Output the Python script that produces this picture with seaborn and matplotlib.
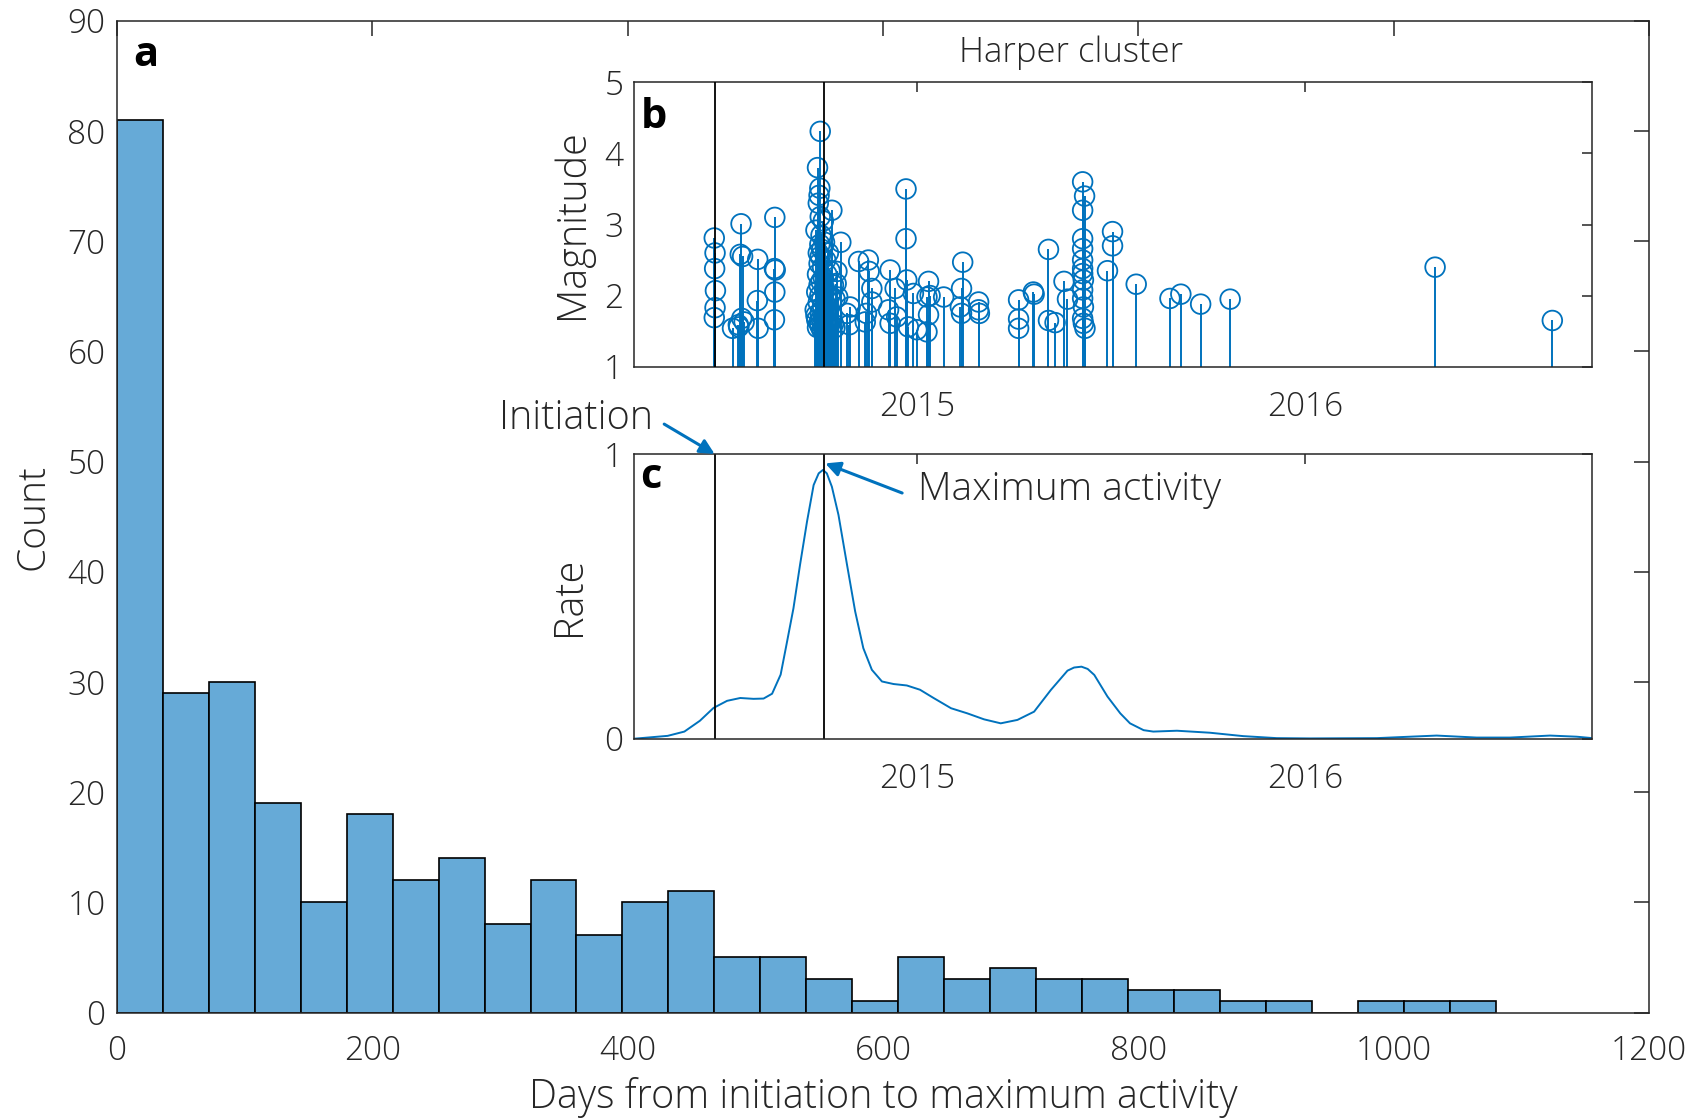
import numpy as np
import pandas as pd
import matplotlib
matplotlib.use('Agg')
import matplotlib.pyplot as plt
import seaborn as sns

# histogram of days from initiation to max activity (36-day bins)
bin_edges = list(range(0, 1081, 36))
counts = [81, 29, 30, 19, 10, 18, 12, 14, 8, 12, 7, 10, 11, 5, 5,
          3, 1, 5, 3, 4, 3, 3, 2, 2, 1, 1, 0, 1, 1, 1]

# Harper cluster events (decimal year, magnitude)
event_year = [
    2014.478, 2014.480, 2014.479, 2014.481, 2014.480, 2014.478,
    2014.525, 2014.540, 2014.547, 2014.545, 2014.551, 2014.549, 2014.541, 2014.555,
    2014.590, 2014.589, 2014.591,
    2014.634, 2014.633, 2014.635, 2014.634, 2014.633,
    2014.738, 2014.740, 2014.740, 2014.742, 2014.742, 2014.744, 2014.744, 2014.744,
    2014.746, 2014.746, 2014.746, 2014.748, 2014.748, 2014.748, 2014.748,
    2014.750, 2014.750, 2014.750, 2014.750, 2014.751, 2014.751, 2014.751, 2014.751,
    2014.753, 2014.753, 2014.753, 2014.755, 2014.755, 2014.755,
    2014.757, 2014.757, 2014.757, 2014.759, 2014.759, 2014.759,
    2014.762, 2014.762, 2014.762, 2014.765, 2014.765, 2014.768, 2014.768,
    2014.772, 2014.772, 2014.772, 2014.776, 2014.776, 2014.781, 2014.781,
    2014.785, 2014.785, 2014.789, 2014.789,
    2014.794, 2014.792, 2014.796, 2014.804, 2014.828, 2014.826, 2014.820,
    2014.850, 2014.875, 2014.877, 2014.884, 2014.884, 2014.870, 2014.867,
    2014.931, 2014.944, 2014.927, 2014.931, 2014.948,
    2014.972, 2014.972, 2014.974, 2014.978, 2014.991, 2015.000,
    2015.030, 2015.026, 2015.030, 2015.026, 2015.034, 2015.069,
    2015.118, 2015.115, 2015.112, 2015.115, 2015.159, 2015.159, 2015.161,
    2015.262, 2015.262, 2015.262, 2015.300, 2015.302, 2015.339, 2015.339,
    2015.356, 2015.379, 2015.388,
    2015.427, 2015.432, 2015.427, 2015.427, 2015.427, 2015.427, 2015.427, 2015.427,
    2015.429, 2015.427, 2015.427, 2015.429, 2015.427, 2015.429, 2015.433,
    2015.491, 2015.504, 2015.504, 2015.565, 2015.652, 2015.680, 2015.731,
    2015.807, 2016.335, 2016.637,
]
event_mag = [
    2.81, 2.60, 2.38, 2.07, 1.83, 1.69,
    1.54, 1.59, 3.01, 2.58, 2.55, 1.68, 1.56, 1.63,
    2.51, 1.93, 1.54,
    3.10, 2.38, 2.36, 2.05, 1.66,
    1.80, 1.72, 2.92, 1.66, 2.05, 3.80, 2.30, 1.55,
    3.30, 2.60, 1.90, 3.41, 2.45, 1.62, 2.15,
    3.51, 2.72, 2.00, 1.58, 4.31, 3.11, 2.55, 1.75,
    2.85, 2.20, 1.68, 2.65, 1.95, 1.52,
    2.40, 1.85, 1.60, 3.05, 2.25, 1.70,
    2.75, 2.10, 1.50, 2.50, 1.88, 2.30, 1.65,
    2.60, 1.78, 1.55, 2.35, 2.00, 3.20, 1.72,
    2.15, 1.60, 1.95, 1.55,
    2.34, 2.17, 1.98, 2.75, 1.84, 1.59, 1.75,
    2.48, 2.50, 2.34, 2.10, 1.91, 1.75, 1.63,
    2.36, 2.10, 1.80, 1.61, 1.70,
    3.50, 2.80, 2.22, 1.56, 2.03, 1.52,
    2.20, 1.98, 1.73, 1.49, 2.00, 1.98,
    2.47, 2.10, 1.84, 1.75, 1.91, 1.80, 1.75,
    1.94, 1.67, 1.54, 2.05, 2.02, 2.65, 1.65,
    1.62, 2.20, 1.95,
    3.60, 3.40, 3.20, 2.80, 2.66, 2.50, 2.38, 2.31,
    2.22, 2.08, 1.96, 1.84, 1.68, 1.61, 1.54,
    2.35, 2.90, 2.70, 2.16, 1.96, 2.02, 1.88,
    1.95, 2.40, 1.65,
]

# smoothed rate
rate_year = [2014.272, 2014.358, 2014.401, 2014.441, 2014.476, 2014.511, 2014.545,
             2014.579, 2014.605, 2014.627, 2014.649, 2014.664, 2014.682, 2014.699,
             2014.717, 2014.734, 2014.747, 2014.758, 2014.768, 2014.781, 2014.798,
             2014.820, 2014.841, 2014.862, 2014.884, 2014.910, 2014.940, 2014.974,
             2015.008, 2015.043, 2015.088, 2015.130, 2015.173, 2015.216, 2015.259,
             2015.302, 2015.345, 2015.388, 2015.405, 2015.424, 2015.440, 2015.457,
             2015.491, 2015.524, 2015.549, 2015.584, 2015.609, 2015.670, 2015.755,
             2015.841, 2015.927, 2016.013, 2016.185, 2016.270, 2016.339, 2016.442,
             2016.528, 2016.631, 2016.700, 2016.740]
rate_val = [0.000, 0.010, 0.025, 0.063, 0.108, 0.133, 0.143,
            0.140, 0.141, 0.158, 0.225, 0.330, 0.458, 0.611,
            0.763, 0.891, 0.932, 0.944, 0.932, 0.885, 0.786,
            0.611, 0.447, 0.318, 0.242, 0.201, 0.192, 0.187,
            0.172, 0.143, 0.107, 0.089, 0.068, 0.054, 0.066,
            0.095, 0.171, 0.239, 0.250, 0.253, 0.245, 0.224,
            0.148, 0.089, 0.054, 0.030, 0.025, 0.028, 0.021,
            0.009, 0.002, 0.001, 0.002, 0.007, 0.011, 0.004,
            0.004, 0.011, 0.007, 0.002]

init_year = 2014.479
max_year = 2014.761

blue = '#0072BD'
bar_col = '#66AAD7'
axcol = '#262626'

sns.set_theme(style='white')
plt.rcParams['font.family'] = ['Open Sans', 'DejaVu Sans']
plt.rcParams['font.weight'] = 'light'
plt.rcParams['axes.labelweight'] = 'light'
plt.rcParams['text.color'] = axcol
plt.rcParams['axes.labelcolor'] = axcol

W, H = 1698, 1118
fig = plt.figure(figsize=(W / 100, H / 100), dpi=100)


def px_axes(l, t, r, b):
    return fig.add_axes([l / W, 1 - b / H, (r - l) / W, (b - t) / H])


def style(a, ticklen):
    for s in a.spines.values():
        s.set_color(axcol)
        s.set_linewidth(1.1)
        s.set_visible(True)
    a.tick_params(direction='in', length=ticklen, width=1.1, colors=axcol,
                  top=True, right=True, labelsize=24, pad=8)


# main histogram
ax = px_axes(116.7, 20.7, 1649.3, 1012.5)
hist_df = pd.DataFrame({
    'days': [(lo + hi) / 2 for lo, hi in zip(bin_edges[:-1], bin_edges[1:])],
    'n': counts,
})
sns.histplot(data=hist_df, x='days', weights='n', bins=bin_edges, ax=ax,
             color=bar_col, edgecolor='black', linewidth=1.2, alpha=1)
ax.set_xlim(0, 1200)
ax.set_ylim(0, 90)
ax.set_xticks(range(0, 1201, 200))
ax.set_yticks(range(0, 91, 10))
style(ax, 11)
ax.tick_params(axis='x', pad=16)
ax.set_xlabel('Days from initiation to maximum activity', fontsize=28.5, labelpad=6)
ax.set_ylabel('Count', fontsize=28, labelpad=11)
fig.text(146 / W, 1 - 56 / H, 'a', fontsize=30, fontweight='bold', color='black',
         ha='center', va='center')

# inset b: magnitudes
axb = px_axes(634.3, 82.3, 1592.3, 366.7)
axb.vlines(event_year, 1, event_mag, color=blue, linewidth=1.4, zorder=2)
sns.scatterplot(x=event_year, y=event_mag, ax=axb, marker='o', s=200,
                facecolors='none', edgecolors=blue, linewidth=1.3, zorder=3)
axb.axvline(init_year, color='black', linewidth=1.3, zorder=4)
axb.axvline(max_year, color='black', linewidth=1.3, zorder=4)
axb.set_xlim(2014.272, 2016.740)
axb.set_ylim(1, 5)
axb.set_xticks([2015, 2016])
axb.set_xticklabels(['2015', '2016'])
axb.set_yticks([1, 2, 3, 4, 5])
style(axb, 7)
axb.tick_params(axis='x', pad=17)
axb.set_ylabel('Magnitude', fontsize=28.5, labelpad=8)
fig.text(1071 / W, 1 - 53 / H, 'Harper cluster', fontsize=25, ha='center', va='center')
fig.text(654 / W, 1 - 117 / H, 'b', fontsize=30, fontweight='bold', color='black',
         ha='center', va='center')

# inset c: rate
axc = px_axes(634.3, 454, 1592.3, 738.7)
sns.lineplot(x=rate_year, y=rate_val, ax=axc, color=blue, linewidth=1.4)
axc.axvline(init_year, color='black', linewidth=1.3)
axc.axvline(max_year, color='black', linewidth=1.3)
axc.set_xlim(2014.272, 2016.740)
axc.set_ylim(0, 1)
axc.set_xticks([2015, 2016])
axc.set_xticklabels(['2015', '2016'])
axc.set_yticks([0, 1])
style(axc, 7)
axc.tick_params(axis='x', pad=17)
axc.set_ylabel('Rate', fontsize=28.5, labelpad=10)
fig.text(651 / W, 1 - 478 / H, 'c', fontsize=30, fontweight='bold', color='black',
         ha='center', va='center')

arrow = dict(arrowstyle='-|>', color=blue, lw=2.2, mutation_scale=22, shrinkA=0, shrinkB=0)
axc.annotate('', xy=(init_year, 1.0), xytext=(2014.349, 1.105), arrowprops=arrow,
             annotation_clip=False)
axc.text(2014.321, 1.125, 'Initiation', fontsize=28.5, ha='right', va='center', clip_on=False)
axc.annotate('', xy=(2014.764, 0.967), xytext=(2014.962, 0.863), arrowprops=arrow,
             annotation_clip=False)
axc.text(2015.003, 0.875, 'Maximum activity', fontsize=28, ha='left', va='center')

fig.savefig('out.png', dpi=100)
